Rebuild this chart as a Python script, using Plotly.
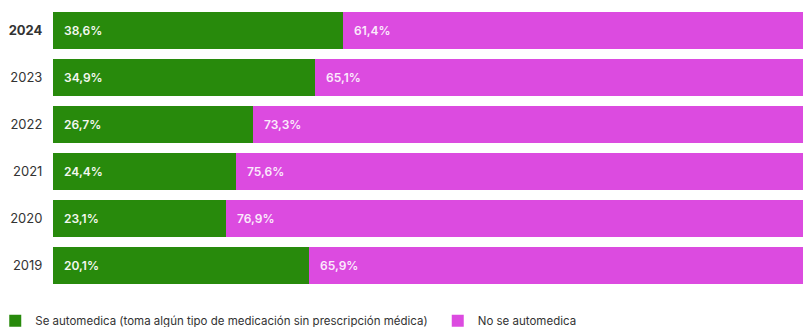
import plotly.graph_objects as go

years = ["2019", "2020", "2021", "2022", "2023", "2024"]
# bar lengths as drawn in the reference (2019 bar drawn at 34.1 though labelled 20,1%)
green_bar = [34.1, 23.1, 24.4, 26.7, 34.9, 38.6]
pink_bar = [65.9, 76.9, 75.6, 73.3, 65.1, 61.4]
green_labels = ["20,1%", "23,1%", "24,4%", "26,7%", "34,9%", "38,6%"]
pink_labels = ["65,9%", "76,9%", "75,6%", "73,3%", "65,1%", "61,4%"]
tick_text = ["2019", "2020", "2021", "2022", "2023", "<b>2024</b>"]

GREEN = "#288a0c"
PINK = "#dc4be0"
FONT = "Inter, Liberation Sans, sans-serif"

fig = go.Figure()
fig.add_trace(go.Bar(
    y=years, x=green_bar, orientation="h", marker_color=GREEN, marker_line_width=0,
    name="Se automedica (toma algún tipo de medicación sin prescripción médica)",
    hoverinfo="skip", legend="legend",
))
fig.add_trace(go.Bar(
    y=years, x=pink_bar, orientation="h", marker_color=PINK, marker_line_width=0,
    name="No se automedica", hoverinfo="skip", legend="legend2",
))

for i, (g, gl, pl) in enumerate(zip(green_bar, green_labels, pink_labels)):
    fig.add_annotation(x=0, y=i, text=gl, showarrow=False, xanchor="left", xshift=9,
                       font=dict(family=FONT, size=12, color="#f4f8f0", weight=600))
    fig.add_annotation(x=g, y=i, text=pl, showarrow=False, xanchor="left", xshift=9,
                       font=dict(family=FONT, size=12, color="#fbeafc", weight=600))

legend_common = dict(orientation="h", xanchor="left", y=-0.113, yanchor="middle",
                     font=dict(family=FONT, size=11.5, color="#333333"),
                     itemclick=False, itemdoubleclick=False, bgcolor="rgba(0,0,0,0)")

fig.update_layout(
    barmode="stack",
    bargap=0.23,
    width=803, height=327,
    margin=dict(l=53, r=0, t=7, b=38, autoexpand=False),
    paper_bgcolor="white", plot_bgcolor="white",
    font=dict(family=FONT, size=13, color="#333333"),
    xaxis=dict(range=[0, 100], visible=False, fixedrange=True),
    yaxis=dict(type="category", categoryorder="array", categoryarray=years,
               range=[-0.5, len(years) - 0.5],
               tickvals=years, ticktext=tick_text,
               showgrid=False, zeroline=False, showline=False, ticks="outside",
               ticklen=7, tickcolor="white", tickfont=dict(size=13, color="#333333"),
               fixedrange=True, automargin=False),
    showlegend=True,
    legend=dict(x=-0.077, **legend_common),
    legend2=dict(x=0.513, **legend_common),
)

fig.write_html("out.html", config={"displayModeBar": False},
               post_script="document.body.style.margin='0';document.body.style.overflow='hidden';")
